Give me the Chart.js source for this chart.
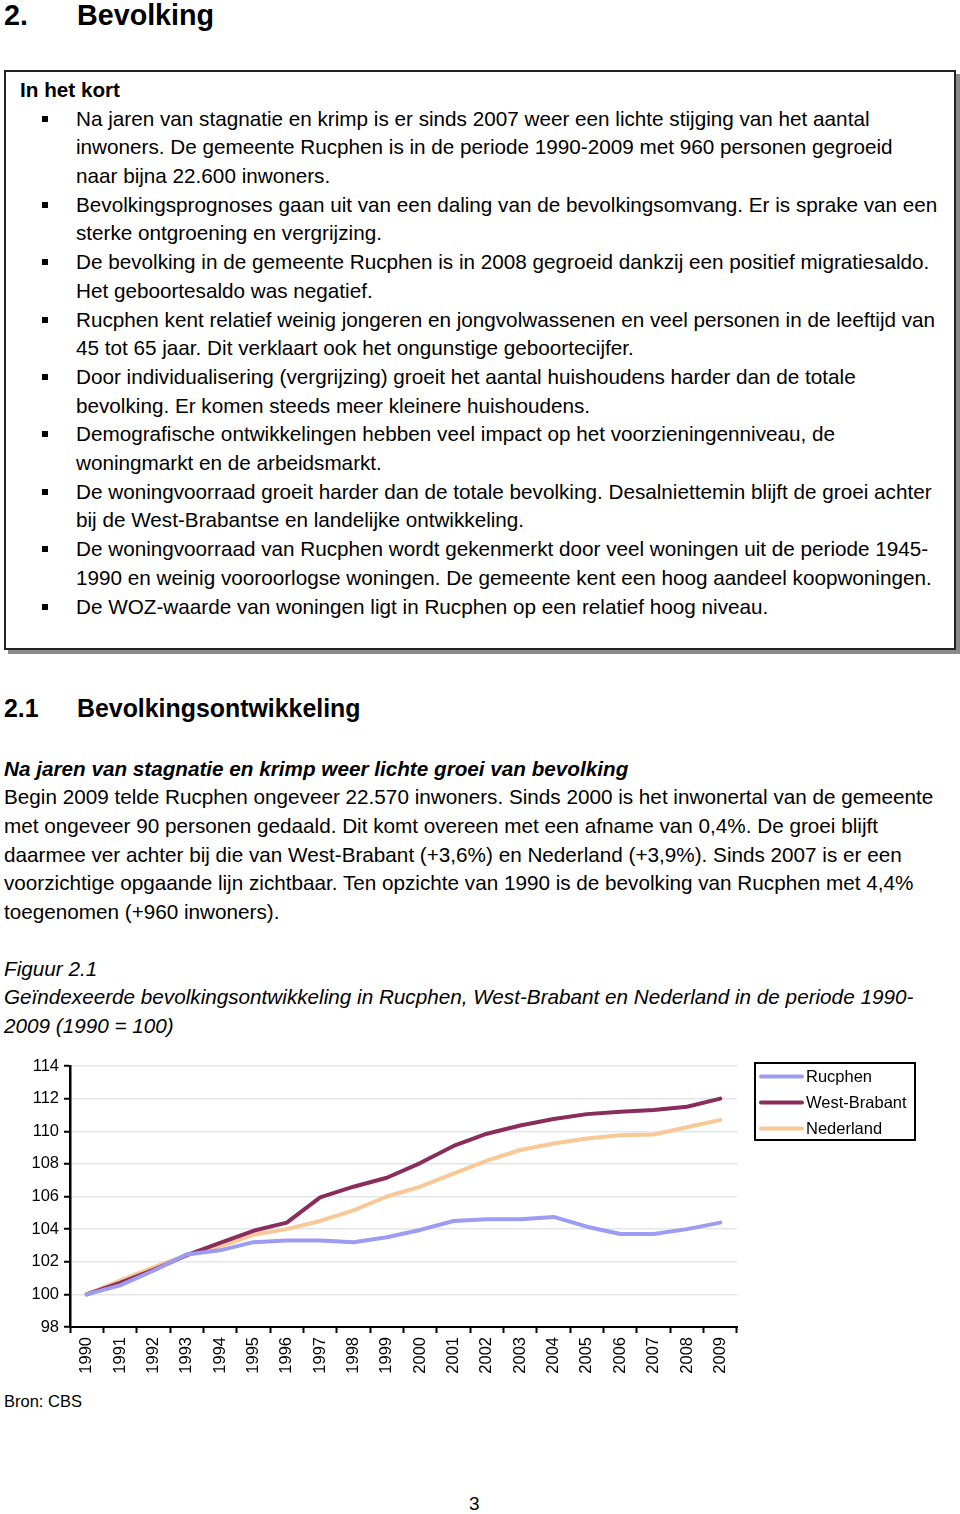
<!DOCTYPE html>
<html lang="nl">
<head>
<meta charset="utf-8">
<script src="https://cdn.jsdelivr.net/npm/chart.js@4.4.1/dist/chart.umd.min.js"></script>
<style>
  html, body { margin: 0; padding: 0; background: #fff; }
  body { width: 960px; height: 1514px; position: relative; overflow: hidden;
         font-family: "Liberation Sans", Arial, sans-serif; color: #000; }
  .abs { position: absolute; white-space: nowrap; }
  .h1 { font-weight: bold; font-size: 28.7px; line-height: 1; }
  .h2 { font-weight: bold; font-size: 24.9px; line-height: 1; }
  .txt { font-size: 20.7px; line-height: 28.7px; }
  .box { position: absolute; left: 4px; top: 70px; width: 948px; height: 576px;
         border: 2px solid #222; box-shadow: 4px 4px 0 #8a8a8a; }
  .list div { position: relative; }
  .list div::before { content: ""; position: absolute; left: -34px; top: 11px;
                      width: 6px; height: 6px; background: #000; }
  #chartWrap { position: absolute; left: 0; top: 1050px; width: 960px; height: 335px; }
</style>
</head>
<body>

<div class="abs h1" style="left:4px; top:1px;">2.</div>
<div class="abs h1" style="left:77px; top:1px;">Bevolking</div>

<div class="box"></div>
<div class="abs txt" style="left:20px; top:76px; font-weight:bold;">In het kort</div>
<div class="abs txt list" style="left:76px; top:104.6px;">
  <div>Na jaren van stagnatie en krimp is er sinds 2007 weer een lichte stijging van het aantal<br>inwoners. De gemeente Rucphen is in de periode 1990-2009 met 960 personen gegroeid<br>naar bijna 22.600 inwoners.</div>
  <div>Bevolkingsprognoses gaan uit van een daling van de bevolkingsomvang. Er is sprake van een<br>sterke ontgroening en vergrijzing.</div>
  <div>De bevolking in de gemeente Rucphen is in 2008 gegroeid dankzij een positief migratiesaldo.<br>Het geboortesaldo was negatief.</div>
  <div>Rucphen kent relatief weinig jongeren en jongvolwassenen en veel personen in de leeftijd van<br>45 tot 65 jaar. Dit verklaart ook het ongunstige geboortecijfer.</div>
  <div>Door individualisering (vergrijzing) groeit het aantal huishoudens harder dan de totale<br>bevolking. Er komen steeds meer kleinere huishoudens.</div>
  <div>Demografische ontwikkelingen hebben veel impact op het voorzieningenniveau, de<br>woningmarkt en de arbeidsmarkt.</div>
  <div>De woningvoorraad groeit harder dan de totale bevolking. Desalniettemin blijft de groei achter<br>bij de West-Brabantse en landelijke ontwikkeling.</div>
  <div>De woningvoorraad van Rucphen wordt gekenmerkt door veel woningen uit de periode 1945-<br>1990 en weinig vooroorlogse woningen. De gemeente kent een hoog aandeel koopwoningen.</div>
  <div>De WOZ-waarde van woningen ligt in Rucphen op een relatief hoog niveau.</div>
</div>

<div class="abs h2" style="left:4px; top:696px;">2.1</div>
<div class="abs h2" style="left:77px; top:696px;">Bevolkingsontwikkeling</div>

<div class="abs txt" style="left:4px; top:754.6px;">
  <b><i>Na jaren van stagnatie en krimp weer lichte groei van bevolking</i></b><br>
  Begin 2009 telde Rucphen ongeveer 22.570 inwoners. Sinds 2000 is het inwonertal van de gemeente<br>
  met ongeveer 90 personen gedaald. Dit komt overeen met een afname van 0,4%. De groei blijft<br>
  daarmee ver achter bij die van West-Brabant (+3,6%) en Nederland (+3,9%). Sinds 2007 is er een<br>
  voorzichtige opgaande lijn zichtbaar. Ten opzichte van 1990 is de bevolking van Rucphen met 4,4%<br>
  toegenomen (+960 inwoners).
</div>

<div class="abs txt" style="left:4px; top:954.6px; font-style:italic;">
  Figuur 2.1<br>
  Geïndexeerde bevolkingsontwikkeling in Rucphen, West-Brabant en Nederland in de periode 1990-<br>
  2009 (1990 = 100)
</div>

<div id="chartWrap"><canvas id="popChart" width="960" height="335"></canvas></div>

<div class="abs" style="left:4px; top:1392px; font-size:16.5px; line-height:18px;">Bron: CBS</div>
<div class="abs" style="left:469px; top:1493px; font-size:19px; line-height:22px;">3</div>

<script>
// Data (index, 1990 = 100)
const years = ["1990","1991","1992","1993","1994","1995","1996","1997","1998","1999",
               "2000","2001","2002","2003","2004","2005","2006","2007","2008","2009"];
const rucphen =     [100, 100.55, 101.45, 102.45, 102.7, 103.2, 103.3, 103.3, 103.2, 103.5,
                     103.95, 104.5, 104.6, 104.6, 104.75, 104.15, 103.7, 103.7, 104.0, 104.4];
const westBrabant = [100, 100.7, 101.5, 102.4, 103.15, 103.9, 104.4, 105.95, 106.6, 107.15,
                     108.05, 109.1, 109.85, 110.35, 110.75, 111.05, 111.2, 111.3, 111.5, 112.0];
const nederland =   [100, 100.85, 101.65, 102.4, 102.95, 103.65, 104.0, 104.5, 105.15, 106.0,
                     106.6, 107.4, 108.2, 108.85, 109.25, 109.55, 109.75, 109.8, 110.25, 110.7];
const yTicks = [98, 100, 102, 104, 106, 108, 110, 112, 114];

const seriesNames = ["Rucphen", "West-Brabant", "Nederland"];
const seriesColors = ["#9c9cf2", "#8b2d5c", "#f8c896"];

// Legend with a frame, drawn on the canvas
const boxedLegend = {
  id: "boxedLegend",
  afterDraw(chart) {
    const ctx = chart.ctx;
    const x = 755, y = 13, w = 160, h = 77;
    ctx.save();
    ctx.strokeStyle = "#000";
    ctx.lineWidth = 2;
    ctx.strokeRect(x, y, w, h);
    ctx.font = "16.5px 'Liberation Sans', Arial, sans-serif";
    ctx.textBaseline = "middle";
    ctx.fillStyle = "#000";
    chart.data.datasets.forEach((ds, i) => {
      const ly = y + 13.5 + i * 26;
      ctx.strokeStyle = ds.borderColor;
      ctx.lineWidth = 4;
      ctx.lineCap = "round";
      ctx.beginPath();
      ctx.moveTo(761, ly);
      ctx.lineTo(802, ly);
      ctx.stroke();
      ctx.fillText(ds.label, 806, ly + 1);
    });
    ctx.restore();
  }
};

const datasets = [rucphen, westBrabant, nederland].map((vals, i) => ({
  label: seriesNames[i],
  data: vals,
  borderColor: seriesColors[i],
  backgroundColor: seriesColors[i],
  borderWidth: 4,
  borderJoinStyle: "round",
  borderCapStyle: "round",
  pointRadius: 0,
  tension: 0,
  order: i
}));

new Chart(document.getElementById("popChart").getContext("2d"), {
  type: "line",
  data: { labels: years, datasets: datasets },
  options: {
    responsive: false,
    animation: false,
    layout: { padding: { top: 16, right: 223, left: 0, bottom: 0 } },
    plugins: { legend: { display: false }, tooltip: { enabled: false } },
    scales: {
      x: {
        offset: true,
        grid: { offset: true, drawOnChartArea: false, tickColor: "#000", tickLength: 6, tickWidth: 2 },
        border: { color: "#000", width: 2 },
        ticks: {
          color: "#000", minRotation: 90, maxRotation: 90, autoSkip: false, padding: 4,
          font: { family: "'Liberation Sans', Arial, sans-serif", size: 16.5 }
        },
        afterFit(scale) { scale.height = 58; }
      },
      y: {
        min: 98, max: 114,
        afterBuildTicks(scale) { scale.ticks = yTicks.map(v => ({ value: v })); },
        grid: { color: "#e4e6ea", lineWidth: 1.5, tickColor: "#000", tickLength: 6, tickWidth: 2 },
        border: { color: "#000", width: 2.5 },
        ticks: {
          color: "#000", padding: 5,
          font: { family: "'Liberation Sans', Arial, sans-serif", size: 16.5 }
        },
        afterFit(scale) { scale.width = 70; }
      }
    }
  },
  plugins: [boxedLegend]
});
</script>
</body>
</html>
